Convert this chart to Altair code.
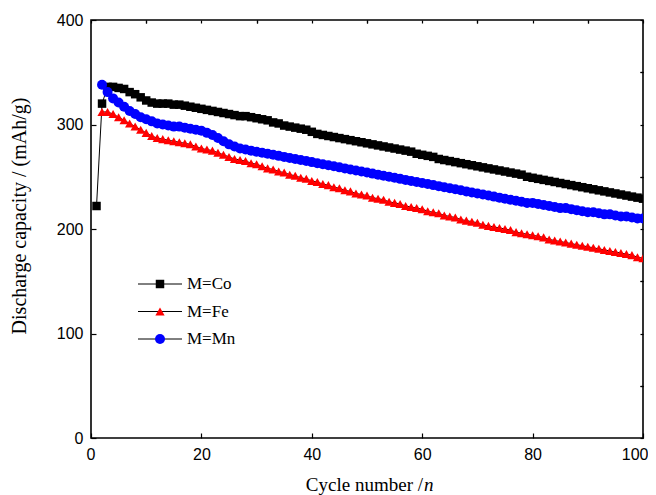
import altair as alt
import pandas as pd

# ---------------- data ----------------
series_names = ["M=Co", "M=Fe", "M=Mn"]
series_colors = ["#000000", "#ff0000", "#0000ff"]
series_shapes = ["square", "triangle-up", "circle"]
series_sizes = [72, 100, 90]

co_cycles = list(range(1, 101))
co_capacity = [
    222, 320, 336, 336, 335, 334, 331, 329, 326, 323,
    321, 320, 320, 320, 319, 319, 318, 317, 316, 315,
    314, 313, 312, 311, 310, 309, 308, 308, 307, 306,
    305, 304, 302, 301, 299, 298, 297, 296, 295, 293,
    291, 290, 289, 288, 287, 286, 285, 284, 283, 282,
    281, 280, 279, 278, 277, 276, 275, 274, 272, 271,
    270, 269, 267, 266, 265, 264, 263, 262, 261, 260,
    259, 258, 257, 256, 255, 254, 253, 252, 250, 249,
    248, 247, 246, 245, 244, 243, 242, 241, 240, 239,
    238, 237, 236, 235, 234, 233, 232, 231, 230, 229,
]

fe_cycles = list(range(2, 101))
fe_capacity = [
    312, 312, 310, 307, 304, 301, 298, 295, 292,
    289, 287, 286, 285, 284, 283, 282, 281, 279, 277,
    276, 275, 273, 271, 269, 267, 266, 265, 263, 262,
    260, 258, 257, 255, 254, 252, 251, 249, 248, 246,
    245, 243, 242, 240, 239, 237, 236, 234, 233, 232,
    230, 229, 228, 226, 225, 224, 222, 221, 220, 219,
    217, 216, 215, 213, 212, 211, 209, 208, 207, 206,
    204, 203, 202, 201, 200, 199, 197, 196, 195, 194,
    193, 192, 190, 189, 188, 187, 186, 185, 184, 183,
    182, 181, 180, 179, 178, 177, 176, 175, 173, 172,
]

mn_cycles = list(range(2, 101))
mn_capacity = [
    338, 331, 325, 321, 317, 313, 310, 307, 305,
    303, 301, 300, 299, 298, 298, 297, 296, 295, 294,
    292, 290, 287, 284, 281, 279, 277, 276, 275, 274,
    273, 272, 271, 270, 269, 268, 267, 266, 265, 264,
    263, 262, 261, 260, 259, 258, 257, 256, 255, 254,
    253, 252, 251, 250, 249, 248, 247, 246, 245, 244,
    243, 242, 241, 240, 239, 238, 237, 236, 235, 234,
    233, 232, 231, 230, 229, 228, 227, 226, 225, 225,
    224, 223, 222, 221, 220, 220, 219, 218, 217, 216,
    216, 215, 214, 214, 213, 212, 212, 211, 210, 210,
]

x_ticks_major = [0, 20, 40, 60, 80, 100]
x_ticks_minor = [10, 30, 50, 70, 90]
x_ticks_all = list(range(0, 101, 10))
y_ticks_major = [0, 100, 200, 300, 400]
y_ticks_minor = [50, 150, 250, 350]
y_ticks_all = list(range(0, 401, 50))

x_title_main = "Cycle number /"
x_title_italic = "n"
y_title = "Discharge capacity / (mAh/g)"

# ---------------- table ----------------
df = pd.concat([
    pd.DataFrame({"cycle": co_cycles, "capacity": co_capacity, "series": series_names[0]}),
    pd.DataFrame({"cycle": fe_cycles, "capacity": fe_capacity, "series": series_names[1]}),
    pd.DataFrame({"cycle": mn_cycles, "capacity": mn_capacity, "series": series_names[2]}),
], ignore_index=True)
df["order"] = range(len(df))

legend_df = pd.DataFrame({"series": series_names})
one = pd.DataFrame({"a": [0]})

TICK_FONT = "Liberation Sans"
SERIF = "Liberation Serif"


def X(axis):
    return alt.X("cycle:Q", scale=alt.Scale(domain=[0, 100], nice=False, zero=False), axis=axis)


def Y(axis):
    return alt.Y("capacity:Q", scale=alt.Scale(domain=[0, 400], nice=False), axis=axis)


color = alt.Color("series:N", scale=alt.Scale(domain=series_names, range=series_colors), legend=None)
shape = alt.Shape("series:N", scale=alt.Scale(domain=series_names, range=series_shapes), legend=None)
size = alt.Size("series:N", scale=alt.Scale(domain=series_names, range=series_sizes), legend=None)

common = dict(domain=False, grid=False, title=None, tickColor="black", tickWidth=1.2)

x_major = alt.Axis(values=x_ticks_major, tickSize=5, offset=-5, labelPadding=8, labelFlush=True,
                   labelFlushOffset=5, labelOverlap=False, labelFont=TICK_FONT, labelFontSize=16,
                   labelColor="black", **common)
y_major = alt.Axis(values=y_ticks_major, tickSize=5, offset=-5, labelPadding=8, labelOverlap=False,
                   labelFont=TICK_FONT, labelFontSize=16, labelColor="black", **common)
x_minor = alt.Axis(values=x_ticks_minor, tickSize=3, offset=-3, labels=False, **common)
y_minor = alt.Axis(values=y_ticks_minor, tickSize=3, offset=-3, labels=False, **common)
x_top = alt.Axis(orient="top", values=x_ticks_all, tickSize=3, offset=-3, labels=False, **common)
y_right = alt.Axis(orient="right", values=y_ticks_all, tickSize=3, offset=-3, labels=False, **common)

base = alt.Chart(df)

lines = base.mark_line(color="black", strokeWidth=1, clip=True).encode(
    x=X(x_major), y=Y(y_major), detail="series:N", order="cycle:Q"
)
points = base.mark_point(filled=True, opacity=1, clip=True).encode(
    x=X(x_minor), y=Y(y_minor), color=color, shape=shape, size=size, order="order:Q"
)
mirror = base.mark_point(opacity=0).encode(x=X(x_top), y=Y(y_right))

main = alt.layer(lines, points, mirror).resolve_axis(x="independent", y="independent")

# legend inside plot
ly = alt.Y("series:N", scale=alt.Scale(type="point", domain=series_names, range=[264, 319], padding=0),
           axis=None)
leg_rule = alt.Chart(legend_df).mark_rule(color="black", strokeWidth=1).encode(
    x=alt.value(47), x2=alt.value(91), y=ly
)
leg_pts = alt.Chart(legend_df).mark_point(filled=True, opacity=1).encode(
    x=alt.value(69), y=ly, color=color, shape=shape, size=size
)
leg_txt = alt.Chart(legend_df).mark_text(align="left", baseline="middle", font=SERIF, fontSize=17,
                                         color="black").encode(
    x=alt.value(96), y=ly, text="series:N"
)
legend_layer = alt.layer(leg_rule, leg_pts, leg_txt)

# axis titles
xt1 = alt.Chart(one).mark_text(align="right", baseline="middle", font=SERIF, fontSize=19,
                               color="black", text=x_title_main).encode(
    x=alt.value(332), y=alt.value(465)
)
xt2 = alt.Chart(one).mark_text(align="left", baseline="middle", font=SERIF, fontSize=19,
                               fontStyle="italic", color="black", text=x_title_italic).encode(
    x=alt.value(333), y=alt.value(465)
)
yt = alt.Chart(one).mark_text(align="center", baseline="middle", font=SERIF, fontSize=20, angle=270,
                              color="black", text=y_title).encode(
    x=alt.value(-71), y=alt.value(196)
)
titles = alt.layer(xt1, xt2, yt)

chart = alt.layer(main, legend_layer, titles).resolve_scale(y="independent").resolve_axis(
    x="independent", y="independent"
).properties(
    width=552, height=418,
    autosize=alt.AutoSizeParams(type="none"),
    padding={"left": 83, "top": 12, "right": 5, "bottom": 57},
    background="white",
).configure_view(stroke="black", strokeWidth=1.6)

chart.save("out.html", embed_options={"renderer": "svg", "actions": False})
